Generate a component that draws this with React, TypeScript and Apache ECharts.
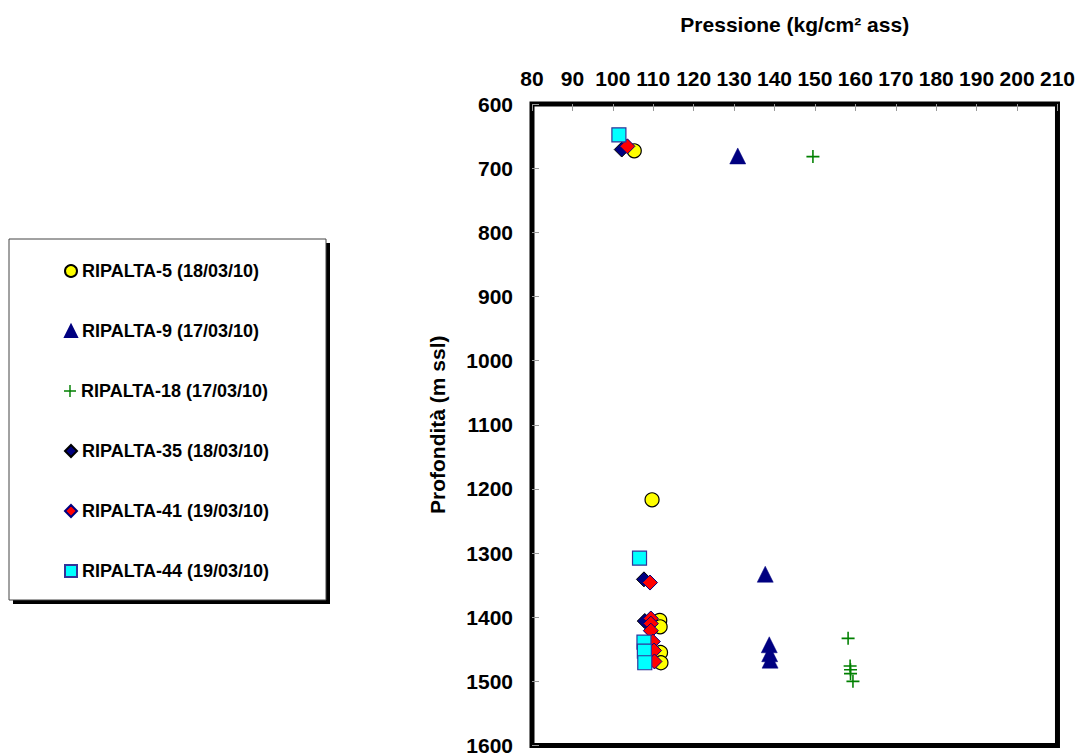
import React, { useEffect, useRef } from 'react';
import * as echarts from 'echarts';

// ---- data (pressure kg/cm2 ass, depth m ssl) ----
const seriesNames = [
  'RIPALTA-5 (18/03/10)',
  'RIPALTA-9 (17/03/10)',
  'RIPALTA-18 (17/03/10)',
  'RIPALTA-35 (18/03/10)',
  'RIPALTA-41 (19/03/10)',
  'RIPALTA-44 (19/03/10)',
];

const ripalta5: [number, number][] = [
  [105.3, 673], [109.7, 1217], [111.6, 1405], [111.7, 1415], [111.8, 1455], [111.9, 1471],
];
const ripalta9: [number, number][] = [
  [130.9, 681], [137.7, 1333], [138.7, 1443], [138.8, 1457], [138.9, 1467],
];
const ripalta18: [number, number][] = [
  [149.5, 682], [158.2, 1433], [158.7, 1476], [158.8, 1482], [158.8, 1488], [159.4, 1500],
];
const ripalta35: [number, number][] = [
  [102.2, 671], [107.7, 1341], [107.9, 1406],
];
const ripalta41: [number, number][] = [
  [103.6, 666], [109.2, 1346], [109.4, 1402], [109.4, 1410], [109.4, 1421], [109.9, 1438], [110.2, 1452], [110.3, 1469],
];
const ripalta44: [number, number][] = [
  [101.5, 648], [106.6, 1308], [107.7, 1439], [107.8, 1453], [107.9, 1471],
];

const xMin = 80;
const xMax = 210;
const xStep = 10;
const yMin = 600;
const yMax = 1600;
const yStep = 100;

const xTitle = 'Pressione (kg/cm² ass)';
const yTitle = 'Profondità (m ssl)';

const FONT = 'Liberation Sans, Arial, Helvetica, sans-serif';
const PLUS = 'path://M0,4.4H4.4V0H5.6V4.4H10V5.6H5.6V10H4.4V5.6H0Z';

export default function App() {
  const ref = useRef<HTMLDivElement>(null);
  useEffect(() => {
    if (!ref.current) return;
    const chart = echarts.init(ref.current, undefined, { renderer: 'svg' });

    const seriesData = [ripalta5, ripalta9, ripalta18, ripalta35, ripalta41, ripalta44];
    const styles = [
      { symbol: 'circle', size: 14, color: '#FFFF00', border: '#000000', bw: 1.2 },
      { symbol: 'triangle', size: 16, color: '#000080', border: '#000080', bw: 0.5 },
      { symbol: PLUS, size: 13, color: '#008000', border: '#008000', bw: 0 },
      { symbol: 'diamond', size: 15, color: '#000080', border: '#000000', bw: 1 },
      { symbol: 'diamond', size: 15, color: '#FF0000', border: '#000080', bw: 1 },
      { symbol: 'rect', size: 14, color: '#00FFFF', border: '#333399', bw: 1.2 },
    ];

    const series = seriesNames.map((name, i) => ({
      name,
      type: 'scatter',
      data: seriesData[i],
      symbol: styles[i].symbol,
      symbolSize: styles[i].size,
      itemStyle: {
        color: styles[i].color,
        borderColor: styles[i].border,
        borderWidth: styles[i].bw,
        opacity: 1,
      },
      z: 3 + i,
    }));

    const legends = seriesNames.map((name, i) => ({
      data: [name],
      orient: 'vertical',
      left: 64,
      top: 262 + i * 60,
      padding: 0,
      itemWidth: 12,
      itemHeight: 12,
      selectedMode: false,
      textStyle: { fontFamily: FONT, fontSize: 18, fontWeight: 'bold', color: '#000' },
    }));

    chart.setOption({
      animation: false,
      backgroundColor: '#ffffff',
      textStyle: { fontFamily: FONT },
      graphic: [
        { type: 'rect', z: 0, shape: { x: 13, y: 243, width: 317, height: 361 }, style: { fill: '#000' } },
        { type: 'rect', z: 1, shape: { x: 9, y: 239, width: 317, height: 361 }, style: { fill: '#fff', stroke: '#444', lineWidth: 1 } },
      ],
      legend: legends,
      grid: {
        left: 532,
        right: 19,
        top: 104,
        bottom: 8,
        show: true,
        borderColor: '#000',
        borderWidth: 5,
        backgroundColor: '#fff',
      },
      xAxis: {
        type: 'value',
        position: 'top',
        min: xMin,
        max: xMax,
        interval: xStep,
        name: xTitle,
        nameLocation: 'middle',
        nameGap: 69,
        nameTextStyle: { fontFamily: FONT, fontSize: 21, fontWeight: 'bold', color: '#000' },
        axisLine: { show: false },
        axisTick: { show: true, inside: true, length: 7, lineStyle: { color: '#999', width: 1 } },
        splitLine: { show: false },
        axisLabel: { fontFamily: FONT, fontSize: 21, fontWeight: 'bold', color: '#000', margin: 15, formatter: (v: number) => String(v) },
      },
      yAxis: {
        type: 'value',
        inverse: true,
        min: yMin,
        max: yMax,
        interval: yStep,
        name: yTitle,
        nameLocation: 'middle',
        nameRotate: 90,
        nameGap: 84,
        nameTextStyle: { fontFamily: FONT, fontSize: 21, fontWeight: 'bold', color: '#000' },
        axisLine: { show: false },
        axisTick: { show: true, inside: true, length: 7, lineStyle: { color: '#999', width: 1 } },
        splitLine: { show: false },
        axisLabel: { fontFamily: FONT, fontSize: 21, fontWeight: 'bold', color: '#000', margin: 19, formatter: (v: number) => String(v) },
      },
      series,
    });

    return () => {
      chart.dispose();
    };
  }, []);

  return (
    <div
      ref={ref}
      style={{ position: 'fixed', left: 0, top: 0, width: 1078, height: 756, background: '#fff' }}
    />
  );
}
